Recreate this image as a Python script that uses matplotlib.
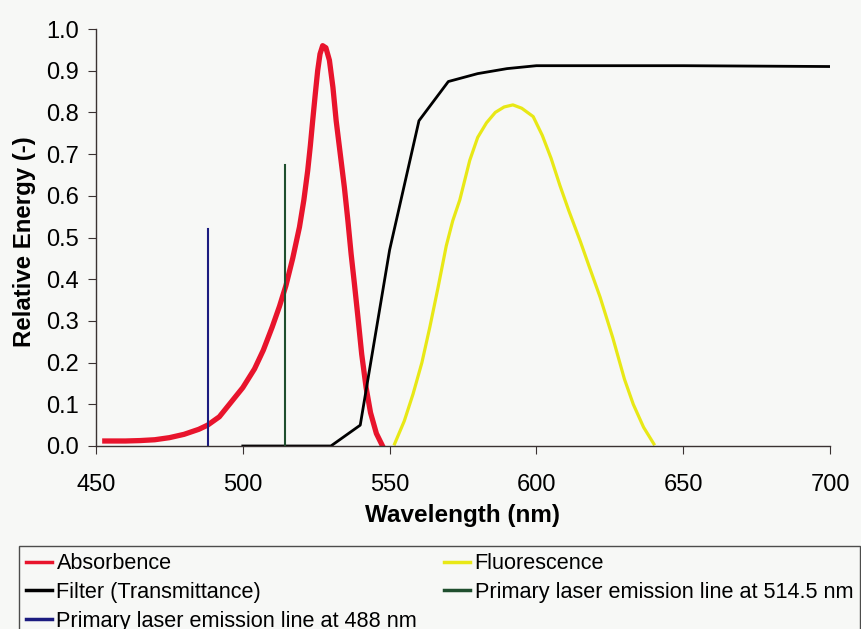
import matplotlib.pyplot as plt

plt.rcParams['font.family'] = ['Liberation Sans', 'DejaVu Sans']

# absorbence spectrum (red)
abs_wl = [453, 460, 465, 470, 475, 480, 485, 488, 492, 496, 500, 504, 507, 510, 512.5,
          514.7, 517, 519.3, 520.8, 522.1, 523, 523.8, 524.7, 525.5, 526.3, 527.2, 528.3,
          529.5, 530.7, 531.8, 533.2, 534.6, 535.8, 536.9, 538, 539.2, 540.5, 542,
          543.5, 545.5, 547.6]
abs_val = [0.012, 0.012, 0.013, 0.015, 0.02, 0.028, 0.04, 0.05, 0.07, 0.105, 0.14, 0.185,
           0.23, 0.285, 0.335, 0.385, 0.45, 0.525, 0.59, 0.66, 0.72, 0.78, 0.845, 0.9,
           0.94, 0.96, 0.955, 0.925, 0.86, 0.78, 0.7, 0.62, 0.54, 0.46, 0.39, 0.31,
           0.22, 0.14, 0.08, 0.03, 0.0]

# filter transmittance (black)
filt_wl = [500, 510, 520, 530, 540, 550, 560, 570, 580, 590, 600, 650, 700]
filt_val = [0.0, 0.0, 0.0, 0.0, 0.05, 0.47, 0.78, 0.874, 0.893, 0.905, 0.912, 0.912, 0.91]

# fluorescence (yellow)
fl_wl = [551.7, 555, 558, 561, 563.7, 566.5, 569.3, 571.5, 573.9, 577.3, 580, 583, 586,
         589, 592, 595, 598.9, 602, 605, 608, 611, 615, 618, 621.7, 626, 630, 633,
         636.5, 640]
fl_val = [0.005, 0.06, 0.125, 0.2, 0.285, 0.38, 0.48, 0.54, 0.59, 0.685, 0.74, 0.775, 0.8,
          0.813, 0.818, 0.81, 0.79, 0.745, 0.69, 0.625, 0.565, 0.49, 0.43, 0.357, 0.26,
          0.16, 0.1, 0.045, 0.005]

# laser lines
laser1_wl, laser1_h = 488, 0.52
laser2_wl, laser2_h = 514.5, 0.675

bg = '#f7f8f6'
fig = plt.figure(figsize=(8.62, 6.29), dpi=100, facecolor=bg)
ax = fig.add_axes([96/862, 1-446/629, (830-96)/862, (446-29)/629])
ax.set_facecolor(bg)

ax.plot(abs_wl, abs_val, color='#e8142c', lw=3.8, label='Absorbence',
        solid_joinstyle='round')
ax.plot(filt_wl, filt_val, color='black', lw=2.0, label='Filter (Transmittance)')
ax.plot([laser1_wl, laser1_wl], [0, laser1_h], color='#1c1c80', lw=1.5,
        label='Primary laser emission line at 488 nm')
ax.plot(fl_wl, fl_val, color='#e8e816', lw=2.3, label='Fluorescence',
        solid_joinstyle='round')
ax.plot([laser2_wl, laser2_wl], [0, laser2_h], color='#1f4f2e', lw=1.5,
        label='Primary laser emission line at 514.5 nm')

ax.set_xlim(450, 700)
ax.set_ylim(0, 1.0)
ax.set_xticks([450, 500, 550, 600, 650, 700])
ax.set_yticks([i / 10 for i in range(11)])
ax.set_yticklabels([f'{i / 10:.1f}' for i in range(11)])
for s in ['top', 'right']:
    ax.spines[s].set_visible(False)
for s in ['left', 'bottom']:
    ax.spines[s].set_color('#3a3232')
    ax.spines[s].set_linewidth(1.0)
ax.tick_params(axis='both', labelsize=17, colors='#3a3232', labelcolor='black', direction='out')
ax.tick_params(axis='y', length=6, pad=6)
ax.tick_params(axis='x', length=6, pad=14)

ax.set_xlabel('Wavelength (nm)', fontsize=17.5, fontweight='bold')
ax.xaxis.set_label_coords(0.5, -0.14)
ax.set_ylabel('Relative Energy (-)', fontsize=17.3, fontweight='bold')
ax.yaxis.set_label_coords(-0.082, 0.49)

leg = fig.legend(loc='upper left', bbox_to_anchor=(19/862, 1-546/629), ncol=2,
                 fontsize=15.6, frameon=True, fancybox=False, borderaxespad=0,
                 borderpad=0.33, labelspacing=0.36, handlelength=1.2, handletextpad=0.2,
                 columnspacing=1.25)
leg.get_frame().set_edgecolor('#222222')
leg.get_frame().set_facecolor(bg)
leg.get_frame().set_linewidth(1.0)
for h in leg.get_lines():
    h.set_linewidth(2.5)

fig.savefig('out.png', dpi=100, facecolor=bg)
